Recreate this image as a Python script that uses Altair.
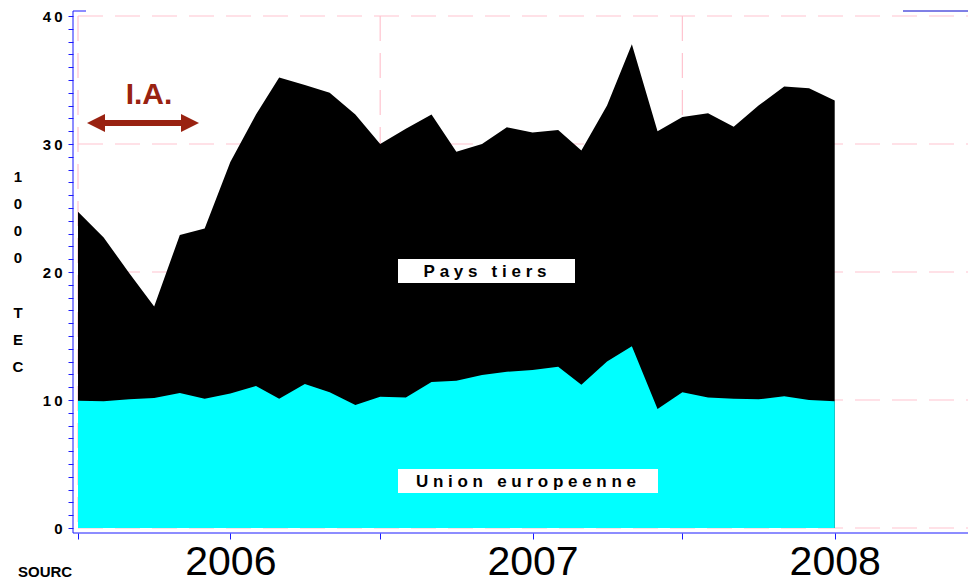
import altair as alt
import pandas as pd

# ---- data ----
months = ["2005-07-01", "2005-08-01", "2005-09-01", "2005-10-01", "2005-11-01", "2005-12-01",
          "2006-01-01", "2006-02-01", "2006-03-01", "2006-04-01", "2006-05-01", "2006-06-01",
          "2006-07-01", "2006-08-01", "2006-09-01", "2006-10-01", "2006-11-01", "2006-12-01",
          "2007-01-01", "2007-02-01", "2007-03-01", "2007-04-01", "2007-05-01", "2007-06-01",
          "2007-07-01", "2007-08-01", "2007-09-01", "2007-10-01", "2007-11-01", "2007-12-01",
          "2008-01-01"]
# Union europeenne (1000 TEC)
eu = [9.95, 9.9, 10.05, 10.15, 10.55, 10.1,
      10.5, 11.1, 10.1, 11.25, 10.6, 9.6,
      10.25, 10.2, 11.4, 11.5, 11.95, 12.2,
      12.35, 12.6, 11.2, 13.0, 14.2, 9.3,
      10.6, 10.2, 10.1, 10.05, 10.3, 10.0,
      9.9]
# Total = Union europeenne + Pays tiers (1000 TEC)
total = [24.7, 22.7, 19.9, 17.3, 22.9, 23.4,
         28.6, 32.3, 35.2, 34.6, 34.0, 32.3,
         30.0, 31.2, 32.3, 29.4, 30.0, 31.3,
         30.9, 31.1, 29.5, 33.0, 37.8, 31.0,
         32.1, 32.4, 31.35, 33.0, 34.5, 34.35,
         33.4]
y_grid = [0, 10, 20, 30, 40]
x_grid = ["2005-07-01", "2006-07-01", "2007-07-01"]
y_title_1 = ["1", "0", "0", "0"]
y_title_2 = ["T", "E", "C"]

df = pd.DataFrame({"date": months, "eu": eu, "total": total})
df["tiers"] = [t - e for t, e in zip(total, eu)]

W, H = 890, 512
FONT = "Liberation Sans"
BLUE = "#1a1aff"
PINK = "#ffc4cf"
RED = "#992211"

xscale = alt.Scale(type="utc",
                   domain=[alt.DateTime(year=2005, month=7, date=1, utc=True),
                           alt.DateTime(year=2008, month=6, date=10, utc=True)])
yscale = alt.Scale(domain=[0, 40], nice=False, zero=True)

xaxis = alt.Axis(
    values=[alt.DateTime(year=y, month=m, date=1, utc=True)
            for (y, m) in [(2005, 7), (2006, 1), (2006, 7), (2007, 1), (2007, 7), (2008, 1)]],
    labelExpr="utcmonth(datum.value) === 0 ? toString(utcyear(datum.value)) : ''",
    domain=False, grid=False, offset=5, tickSize=6, tickColor=BLUE,
    labelFont=FONT, labelFontSize=41, labelColor="black", labelPadding=3,
    labelOverlap=False, labelFlush=False, title=None)
yaxis = alt.Axis(
    values=list(range(0, 41)),
    labelExpr="datum.value % 10 === 0 ? join(split(datum.label, ''), '\u2009') : ''",
    domain=False, grid=False, offset=5, tickSize=5, tickColor=BLUE,
    labelFont=FONT, labelFontSize=15, labelFontWeight="bold", labelColor="black",
    labelPadding=6, labelOverlap=False, title=None)

X = alt.X("date:T", scale=xscale, axis=xaxis, title=None)
one = alt.Data(values=[{"k": 0}])

hgrid = alt.Chart(pd.DataFrame({"g": y_grid})).mark_rule(
    color=PINK, strokeDash=[25, 12], strokeWidth=1.2).encode(
    y=alt.Y("g:Q", scale=yscale, axis=yaxis, title=None),
    x=alt.value(0), x2=alt.value(W))
vgrid = alt.Chart(pd.DataFrame({"date": x_grid})).mark_rule(
    color=PINK, strokeDash=[25, 12], strokeWidth=1.2).encode(
    x=X, y=alt.value(0), y2=alt.value(H))

area_tot = alt.Chart(df).mark_area(color="#000000", opacity=1, interpolate="linear").encode(
    x=X, y=alt.Y("total:Q", scale=yscale, axis=yaxis, title=None))
area_eu = alt.Chart(df).mark_area(color="#00ffff", opacity=1, interpolate="linear").encode(
    x=X, y=alt.Y("eu:Q", scale=yscale, axis=yaxis, title=None))

box1 = alt.Chart(one).mark_rect(color="white").encode(
    x=alt.value(320), x2=alt.value(497), y=alt.value(243), y2=alt.value(267))
box2 = alt.Chart(one).mark_rect(color="white").encode(
    x=alt.value(320), x2=alt.value(580), y=alt.value(453), y2=alt.value(477))
NB = "\u00a0"
lab1 = alt.Chart(one).mark_text(font=FONT, fontSize=17, fontWeight="bold", color="black",
                                align="center", baseline="middle").encode(
    x=alt.value(407), y=alt.value(256),
    text=alt.value(NB.join("Pays") + NB * 3 + NB.join("tiers")))
lab2 = alt.Chart(one).mark_text(font=FONT, fontSize=17, fontWeight="bold", color="black",
                                align="center", baseline="middle").encode(
    x=alt.value(448), y=alt.value(466),
    text=alt.value(NB.join("Union") + NB * 3 + NB.join("europeenne")))

ia = alt.Chart(one).mark_text(font=FONT, fontSize=30, fontWeight="bold", color=RED,
                              align="center", baseline="middle").encode(
    x=alt.value(71), y=alt.value(79), text=alt.value("I.A."))
shaft = alt.Chart(one).mark_rule(color=RED, strokeWidth=6).encode(
    x=alt.value(24), x2=alt.value(106), y=alt.value(107))
head_l = alt.Chart(one).mark_point(shape="M1,-1L-1,0L1,1Z", filled=True, size=324,
                                   color=RED, opacity=1).encode(
    x=alt.value(18), y=alt.value(107))
head_r = alt.Chart(one).mark_point(shape="M-1,-1L1,0L-1,1Z", filled=True, size=324,
                                   color=RED, opacity=1).encode(
    x=alt.value(112), y=alt.value(107))

ytitle1 = alt.Chart(one).mark_text(font=FONT, fontSize=15, fontWeight="bold", color="black",
                                   align="center", baseline="middle", lineHeight=27).encode(
    x=alt.value(-60), y=alt.value(161), text=alt.value(y_title_1))
ytitle2 = alt.Chart(one).mark_text(font=FONT, fontSize=15, fontWeight="bold", color="black",
                                   align="center", baseline="middle", lineHeight=27).encode(
    x=alt.value(-60), y=alt.value(297), text=alt.value(y_title_2))
source = alt.Chart(one).mark_text(font=FONT, fontSize=15, fontWeight="bold", color="black",
                                  align="left", baseline="alphabetic").encode(
    x=alt.value(-60), y=alt.value(561), text=alt.value("SOURC"))

ax_left = alt.Chart(one).mark_rule(color=BLUE, strokeWidth=1).encode(
    x=alt.value(-5), y=alt.value(-5), y2=alt.value(H + 5))
ax_bottom = alt.Chart(one).mark_rule(color=BLUE, strokeWidth=1).encode(
    y=alt.value(H + 5), x=alt.value(-5), x2=alt.value(W))
ax_top_l = alt.Chart(one).mark_rule(color=BLUE, strokeWidth=1).encode(
    y=alt.value(-5), x=alt.value(-5), x2=alt.value(8))
ax_top_r = alt.Chart(one).mark_rule(color="#0000cc", strokeWidth=1).encode(
    y=alt.value(-5), x=alt.value(825), x2=alt.value(W))

chart = alt.layer(
    hgrid, vgrid, area_tot, area_eu, box1, box2, lab1, lab2,
    ia, shaft, head_l, head_r, ytitle1, ytitle2, source,
    ax_left, ax_bottom, ax_top_l, ax_top_r
).properties(
    width=W, height=H,
    autosize=alt.AutoSizeParams(type="none"),
    padding={"left": 70, "top": 8, "right": 0, "bottom": 50},
    background="white"
).configure_view(stroke=None)

chart.save("out.html", embed_options={"renderer": "svg", "actions": False})
